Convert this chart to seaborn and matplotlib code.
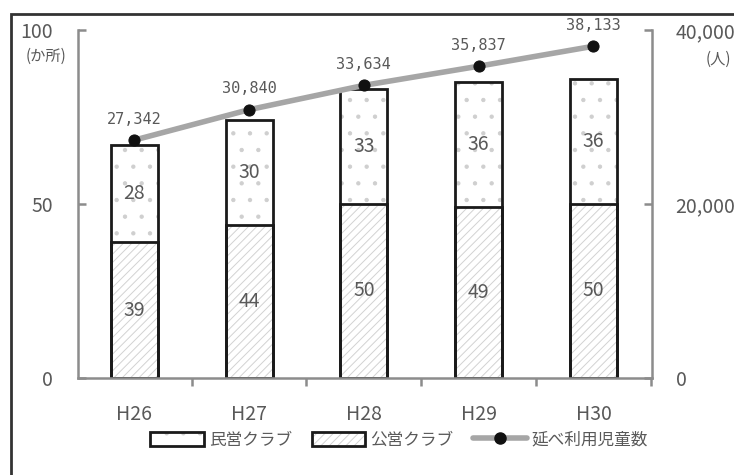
import numpy as np
import pandas as pd
import matplotlib
matplotlib.use("Agg")
import matplotlib.pyplot as plt
from matplotlib.patches import Patch, Rectangle
from matplotlib.lines import Line2D
from matplotlib.legend_handler import HandlerTuple
import seaborn as sns

# ---- data ----
years = ["H26", "H27", "H28", "H29", "H30"]
public_clubs = [39, 44, 50, 49, 50]      # 公営クラブ (か所)
private_clubs = [28, 30, 33, 36, 36]     # 民営クラブ (か所)
users = [27342, 30840, 33634, 35837, 38133]  # 延べ利用児童数 (人)
left_ticks = [0, 50, 100]
right_ticks = [0, 20000, 40000]
right_tick_labels = ["0", "20,000", "40,000"]

df = pd.DataFrame({
    "year": years,
    "public": public_clubs,
    "private": private_clubs,
    "users": users,
})
df["total"] = df["public"] + df["private"]

sns.set_style("white")
plt.rcParams["font.family"] = ["Noto Sans CJK JP", "DejaVu Sans"]
plt.rcParams["hatch.linewidth"] = 0.7

TEXT = "#595959"
AXC = "#8c8c8c"
EDGE = "#1a1a1a"
DOTC = "#cfcfcf"
DIAGC = "#d2d2d2"

fig = plt.figure(figsize=(7.34, 4.75), dpi=100)
ax = fig.add_axes([78 / 734, 1 - 378 / 475, (652 - 78) / 734, (378 - 30) / 475])

W = 0.41
# filled (hatched) bars
sns.barplot(data=df, x="year", y="total", ax=ax, color="white", width=W,
            errorbar=None, saturation=1)
n0 = len(ax.patches)
sns.barplot(data=df, x="year", y="public", ax=ax, color="white", width=W,
            errorbar=None, saturation=1)
for i, p in enumerate(ax.patches):
    p.set_facecolor("white")
    p.set_linewidth(0)
    if i < n0:
        p.set_hatch(".")
        p.set_edgecolor(DOTC)
    else:
        p.set_hatch("////")
        p.set_edgecolor(DIAGC)
# outlines
sns.barplot(data=df, x="year", y="total", ax=ax, color=EDGE, width=W,
            errorbar=None, fill=False, linewidth=2, saturation=1)
sns.barplot(data=df, x="year", y="public", ax=ax, color=EDGE, width=W,
            errorbar=None, fill=False, linewidth=2, saturation=1)

# values inside bars
for i, (pub, pri) in enumerate(zip(df["public"], df["private"])):
    ax.text(i, pub / 2, f"{pub}", ha="center", va="center", fontsize=14, color=TEXT)
    ax.text(i, pub + pri / 2, f"{pri}", ha="center", va="center", fontsize=14, color=TEXT)

ax.set_ylim(0, 100)
ax.set_yticks(left_ticks)
ax.set_yticklabels([str(t) for t in left_ticks])
ax.set_xlabel("")
ax.set_ylabel("")

# line on secondary axis
ax2 = ax.twinx()
sns.lineplot(x=np.arange(len(years)), y=df["users"], ax=ax2, color="#a6a6a6",
             linewidth=4, marker="o", markersize=8, markerfacecolor="#111111",
             markeredgecolor="#111111", zorder=3)
ax2.set_ylim(0, 40000)
ax2.set_yticks(right_ticks)
ax2.set_yticklabels(right_tick_labels)
ax2.set_ylabel("")
for i, v in enumerate(df["users"]):
    ax2.annotate(f"{v:,}", (i, v), xytext=(0, 15), textcoords="offset points",
                 ha="center", va="center", fontsize=11, color=TEXT,
                 family="DejaVu Sans Mono")

ax.set_xlim(-0.49, 4.51)
ax2.set_xlim(-0.49, 4.51)

# spines & ticks
for a in (ax, ax2):
    for s in a.spines.values():
        s.set_visible(False)
ax.spines["left"].set_visible(True)
ax.spines["bottom"].set_visible(True)
ax2.spines["right"].set_visible(True)
for s in (ax.spines["left"], ax.spines["bottom"], ax2.spines["right"]):
    s.set_color(AXC)
    s.set_linewidth(1.8)

ax.tick_params(axis="y", direction="in", length=6, width=1.8, color=AXC,
               pad=18, labelsize=14, labelcolor=TEXT, left=True)
ax2.tick_params(axis="y", direction="in", length=6, width=1.8, color=AXC,
                pad=17, labelsize=14, labelcolor=TEXT, right=True)
ax.set_xticks(np.arange(len(years)))
ax.set_xticklabels(years)
ax.set_xticks(np.arange(len(years)) + 0.5, minor=True)
ax.tick_params(axis="x", which="major", length=0, pad=19, labelsize=14,
               labelcolor=TEXT)
ax.tick_params(axis="x", which="minor", direction="out", length=6, width=1.8,
               color=AXC, bottom=True)

# unit labels
fig.text(46 / 734, 1 - 56 / 475, "(か所)", ha="center", va="center",
         fontsize=11, color=TEXT)
fig.text(718 / 734, 1 - 59 / 475, "(人)", ha="center", va="center",
         fontsize=11, color=TEXT)

# legend
h_priv = (Patch(facecolor="white", edgecolor=DOTC, hatch=".", linewidth=0),
          Patch(facecolor="none", edgecolor=EDGE, linewidth=2))
h_pub = (Patch(facecolor="white", edgecolor=DIAGC, hatch="////", linewidth=0),
         Patch(facecolor="none", edgecolor=EDGE, linewidth=2))
h_line = Line2D([], [], color="#a6a6a6", linewidth=4, marker="o", markersize=8,
                markerfacecolor="#111111", markeredgecolor="#111111")
fig.legend([h_priv, h_pub, h_line], ["民営クラブ", "公営クラブ", "延べ利用児童数"],
           handler_map={tuple: HandlerTuple(ndivide=1)},
           loc="center", bbox_to_anchor=(0.544, 1 - 440 / 475), ncol=3,
           frameon=False, fontsize=12, labelcolor=TEXT, handlelength=3.2,
           handleheight=0.9, handletextpad=0.3, columnspacing=1.2)

# figure frame
fig.patches.append(Rectangle((11 / 734, -0.1), 2, 1 - 14 / 475 + 0.1,
                             transform=fig.transFigure, fill=False,
                             linewidth=2, edgecolor="#333333"))

fig.savefig("out.png", dpi=100)
